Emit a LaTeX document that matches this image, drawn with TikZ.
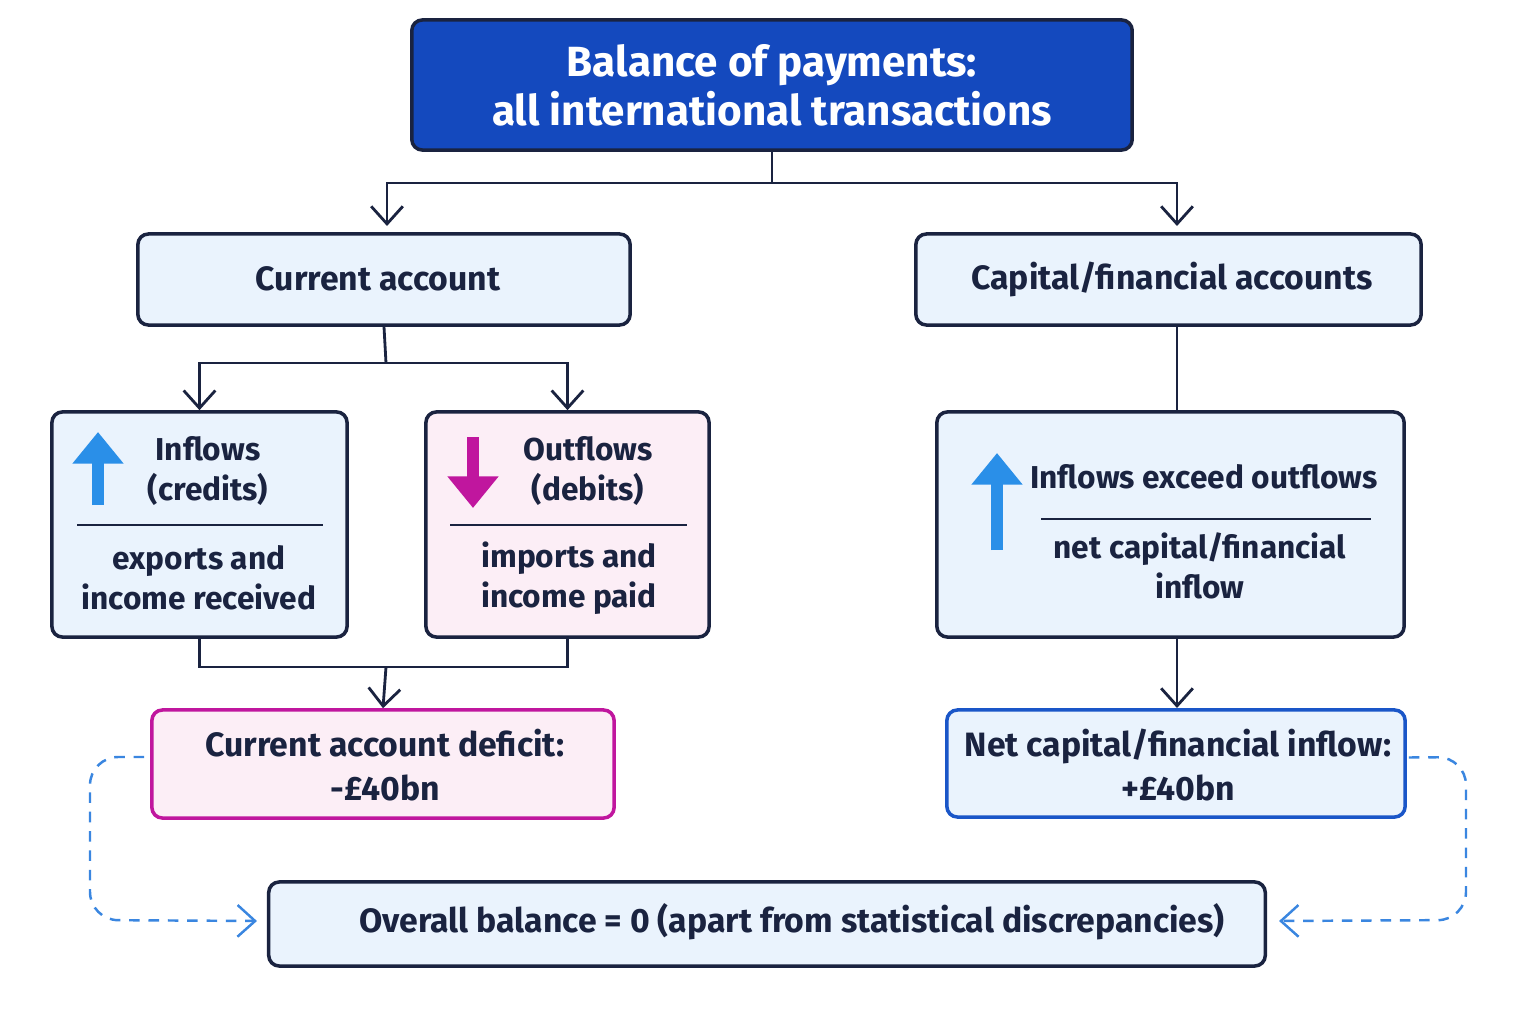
\documentclass[tikz,border=0pt]{standalone}
\usepackage{fontspec}
\setmainfont{Fira Sans}
\usetikzlibrary{arrows.meta,positioning,calc}
\definecolor{navy}{HTML}{1A2340}
\definecolor{topblue}{HTML}{1449BE}
\definecolor{paleblue}{HTML}{EAF3FD}
\definecolor{palepink}{HTML}{FCEEF6}
\definecolor{magenta}{HTML}{C0169E}
\definecolor{midblue}{HTML}{1A56C8}
\definecolor{arrblue}{HTML}{2A8FE8}
\definecolor{dashblue}{HTML}{3A86E0}
\begin{document}
\begin{tikzpicture}[x=0.01cm,y=-0.01cm,
  > = {Straight Barb[length=5pt,width=9pt]},
  box/.style = {draw=navy,line width=1pt,rounded corners=3pt,fill=paleblue,inner sep=0pt},
  pinkbox/.style = {box,fill=palepink},
  txt/.style = {text=navy,font=\bfseries\fontsize{9.6}{12.5}\selectfont,align=center},
  small/.style = {text=navy,font=\bfseries\fontsize{9}{11.5}\selectfont,align=center},
  link/.style = {draw=navy,line width=0.8pt},
  dashlink/.style = {draw=dashblue,line width=0.7pt,dash pattern=on 3pt off 2.5pt,rounded corners=8pt},
  bigarrow/.style = {line width=3.2pt,-{Triangle[length=9pt,width=14pt]}}
  ]
  \useasboundingbox[fill=white] (0,0) rectangle (1536,1024);

  % boxes
  \node[box,fill=topblue,minimum width=7.2cm,minimum height=1.3cm] (bop) at (772,85) {};
  \node[text=white,font=\bfseries\fontsize{12}{14}\selectfont,align=center] at (bop) {Balance of payments:\\all international transactions};
  \node[box,minimum width=4.92cm,minimum height=0.91cm] (cur) at (384,279.5) {};
  \node[txt] at (378,279) {Current account};
  \node[box,minimum width=5.05cm,minimum height=0.91cm] (cap) at (1168.5,279.5) {};
  \node[txt] at (1172,279) {Capital/financial accounts};
  \node[box,minimum width=2.95cm,minimum height=2.25cm] (inf) at (199.5,524.5) {};
  \node[pinkbox,minimum width=2.83cm,minimum height=2.25cm] (out) at (567.5,524.5) {};
  \node[box,minimum width=4.67cm,minimum height=2.25cm] (rgt) at (1170.5,524.5) {};
  \node[pinkbox,draw=magenta,minimum width=4.62cm,minimum height=1.08cm] (def) at (383,764) {};
  \node[txt] at (385,765) {Current account deficit:\\-£40bn};
  \node[box,draw=midblue,minimum width=4.58cm,minimum height=1.07cm] (net) at (1176,763.5) {};
  \node[txt] at (1178,765) {Net capital/financial inflow:\\+£40bn};
  \node[box,minimum width=9.96cm,minimum height=0.84cm] (all) at (767,924) {};
  \node[txt] at (792,922) {Overall balance = 0 (apart from statistical discrepancies)};

  % box contents
  \node[small] (inft) at (208,471) {Inflows\\(credits)};
  \node[small] (infb) at (199,578) {exports and\\income received};
  \draw[link] (77,525) -- (323,525);
  \draw[bigarrow,arrblue] (98,505) -- (98,432);
  \node[small] (outt) at (588,471) {Outflows\\(debits)};
  \node[small] (outb) at (569,578) {imports and\\income paid};
  \draw[link] (450,525) -- (687,525);
  \draw[bigarrow,magenta] (473,437) -- (473,508);
  \node[small] (rgtt) at (1204,477) {Inflows exceed outflows};
  \node[small] (rgtb) at (1200,566) {net capital/financial\\inflow};
  \draw[link] (1041,519) -- (1371,519);
  \draw[bigarrow,arrblue] (997,550) -- (997,453);

  % connectors
  \draw[link] (bop.south) -- (772,183) coordinate (split);
  \draw[link,->] (split) -| (387,226);
  \draw[link,->] (split) -| (1177,226);
  \draw[link] (cur.south) -- (386,363) coordinate (split2);
  \draw[link,->] (split2) -| (inf.north);
  \draw[link,->] (split2) -| (out.north);
  \draw[link] (inf.south) |- (386,667) -| (out.south);
  \draw[link,->] (386,667) -- (def.north);
  \draw[link] (1177,325) -- (1177,412);
  \draw[link,->] (1177,637) -- (1177,708);
  \draw[dashlink,->] (def.west) ++(-6,-7) -- (90,757) -- (90,920) -- ($(all.west)+(-10,-3)$);
  \draw[dashlink,->] (net.east) ++(2,-6) -- (1466,757) -- (1466,920) -- ($(all.east)+(12,-3)$);
\end{tikzpicture}
\end{document}
